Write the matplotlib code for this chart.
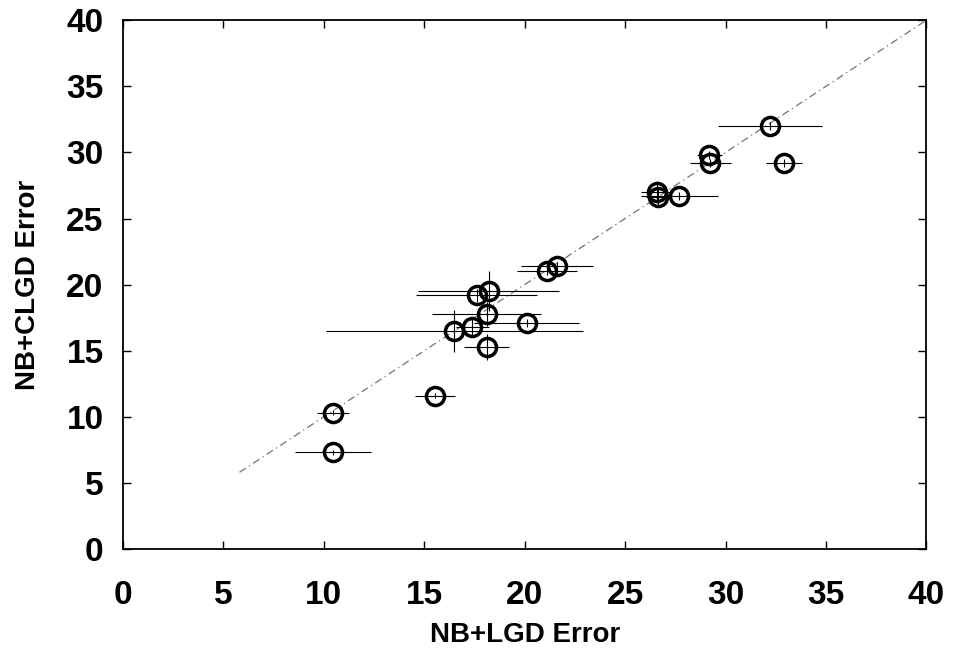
import numpy as np
import matplotlib
matplotlib.use("Agg")
import matplotlib.pyplot as plt

plt.rcParams['font.family'] = ['Liberation Sans', 'DejaVu Sans']

# NB+LGD error (x) vs NB+CLGD error (y), with spread bars
nb_lgd = [10.45, 10.45, 15.55, 16.5, 17.4, 17.6, 18.2, 18.1, 18.1, 20.1,
          21.1, 21.6, 26.6, 26.65, 27.7, 29.2, 29.25, 32.2, 32.9]
nb_clgd = [10.3, 7.3, 11.6, 16.5, 16.8, 19.2, 19.5, 17.8, 15.3, 17.1,
           21.0, 21.4, 27.0, 26.6, 26.7, 29.8, 29.2, 32.0, 29.2]
x_err = [0.8, 1.9, 1.0, 6.4, 0.8, 3.0, 3.5, 2.7, 1.1, 2.6,
         1.5, 1.8, 0.8, 0.6, 1.9, 0.6, 1.0, 2.6, 0.9]
y_err = [0.2, 0.2, 0.2, 1.6, 0.6, 0.5, 1.5, 0.9, 1.0, 0.3,
         0.3, 0.3, 0.8, 0.6, 0.3, 0.3, 0.3, 0.3, 0.3]
diag = [5.8, 40]

fig = plt.figure(figsize=(9.61, 6.52), dpi=100)
ax = fig.add_axes([0.128, 0.158, 0.836, 0.811])

ax.plot(diag, diag, color='0.45', lw=0.9, ls=(0, (6, 3, 1, 3)))
ax.errorbar(nb_lgd, nb_clgd, xerr=x_err, yerr=y_err, fmt='none',
            ecolor='black', elinewidth=0.8, capsize=0)
ax.plot(nb_lgd, nb_clgd, 'o', ms=13, mfc='none', mec='black', mew=2.5)

ax.set_xlim(0, 40)
ax.set_ylim(0, 40)
ax.set_xticks(np.arange(0, 41, 5))
ax.set_yticks(np.arange(0, 41, 5))
ax.tick_params(direction='in', top=True, right=True, length=6, width=1,
               labelsize=24)
ax.tick_params(axis='x', pad=22)
ax.tick_params(axis='y', pad=14)
for lab in ax.get_xticklabels() + ax.get_yticklabels():
    lab.set_fontweight('bold')
for s in ax.spines.values():
    s.set_linewidth(1.3)

ax.set_xlabel('NB+LGD Error', fontsize=20, fontweight='bold', labelpad=8)
ax.set_ylabel('NB+CLGD Error', fontsize=20, fontweight='bold', labelpad=18)

fig.savefig('out.png', dpi=100)
